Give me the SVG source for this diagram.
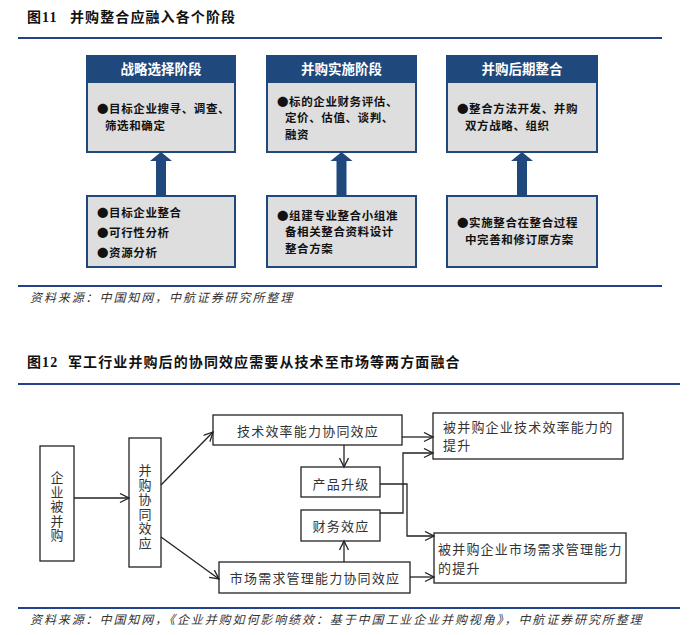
<svg xmlns="http://www.w3.org/2000/svg" width="700" height="635" viewBox="0 0 700 635">
<defs>
<style>
.title{font-family:"Liberation Serif","Noto Sans CJK SC",serif;font-size:14px;font-weight:bold;fill:#111;letter-spacing:1.1px}
.rule{stroke:#22428a;stroke-width:2}
.src{font-family:"Noto Sans CJK SC",sans-serif;font-size:12px;font-style:italic;fill:#333;letter-spacing:1.9px}
.hdr{fill:#1f497d;stroke:#1f497d;stroke-width:2}
.body{fill:#dedede;stroke:#1f497d;stroke-width:2}
.htxt{font-family:"Noto Sans CJK SC",sans-serif;font-size:13.5px;font-weight:bold;fill:#fff;text-anchor:middle}
.btxt{font-family:"Noto Sans CJK SC",sans-serif;font-size:11.5px;font-weight:bold;fill:#111;letter-spacing:0.6px}
.up{fill:#1f497d}
.box{fill:#fff;stroke:#222;stroke-width:1.3}
.t2{font-family:"Noto Sans CJK SC",sans-serif;font-size:13px;fill:#333;letter-spacing:1.2px}
.vt{font-family:"Noto Sans CJK SC",sans-serif;font-size:13px;fill:#333;letter-spacing:1.5px;writing-mode:vertical-rl;text-orientation:upright}
.mid{text-anchor:middle}
.ln{fill:none;stroke:#222;stroke-width:1.3}
</style>
<marker id="ah" markerUnits="userSpaceOnUse" markerWidth="12" markerHeight="12" refX="10" refY="5" orient="auto" viewBox="0 0 12 12">
<path d="M1,0.5 L10,5 L1,9.5" fill="none" stroke="#222" stroke-width="1.3"/>
</marker>
</defs>
<rect width="700" height="635" fill="#fff"/>

<text class="title" x="27" y="22">图11<tspan x="70">并购整合应融入各个阶段</tspan></text>
<line class="rule" x1="18" y1="38" x2="662" y2="38"/>

<g id="stage1">
<rect class="body" x="87" y="56" width="148" height="96"/>
<rect class="hdr" x="87" y="56" width="148" height="26"/>
<text class="htxt" x="161" y="74">战略选择阶段</text>
<text class="btxt" x="97" y="112.5">●目标企业搜寻、调查、</text>
<text class="btxt" x="105" y="129.5">筛选和确定</text>
</g>
<g id="stage1b">
<rect class="body" x="87" y="196" width="148" height="71"/>
<text class="btxt" x="97" y="216.5">●目标企业整合</text>
<text class="btxt" x="97" y="236.5">●可行性分析</text>
<text class="btxt" x="97" y="256.5">●资源分析</text>
</g>

<g id="stage2">
<rect class="body" x="267" y="56" width="149" height="96"/>
<rect class="hdr" x="267" y="56" width="149" height="26"/>
<text class="htxt" x="341.5" y="74">并购实施阶段</text>
<text class="btxt" x="277" y="105.5">●标的企业财务评估、</text>
<text class="btxt" x="285" y="122.2">定价、估值、谈判、</text>
<text class="btxt" x="285" y="138.9">融资</text>
</g>
<g id="stage2b">
<rect class="body" x="267" y="196" width="149" height="71"/>
<text class="btxt" x="277" y="219.5">●组建专业整合小组准</text>
<text class="btxt" x="285" y="236.2">备相关整合资料设计</text>
<text class="btxt" x="285" y="252.9">整合方案</text>
</g>

<g id="stage3">
<rect class="body" x="447" y="56" width="150" height="96"/>
<rect class="hdr" x="447" y="56" width="150" height="26"/>
<text class="htxt" x="522" y="74">并购后期整合</text>
<text class="btxt" x="457" y="113">●整合方法开发、并购</text>
<text class="btxt" x="465" y="129.7">双方战略、组织</text>
</g>
<g id="stage3b">
<rect class="body" x="447" y="196" width="150" height="71"/>
<text class="btxt" x="457" y="227">●实施整合在整合过程</text>
<text class="btxt" x="465" y="243.7">中完善和修订原方案</text>
</g>

<g id="up-arrows">
<polygon class="up" points="156,196 156,161 150,161 161,152 172,161 166,161 166,196"/>
<polygon class="up" points="336.5,196 336.5,161 330.5,161 341.5,152 352.5,161 346.5,161 346.5,196"/>
<polygon class="up" points="517,196 517,161 511,161 522,152 533,161 527,161 527,196"/>
</g>

<line class="rule" x1="18" y1="286" x2="662" y2="286"/>
<text class="src" x="30" y="302">资料来源：中国知网，中航证券研究所整理</text>

<text class="title" x="27" y="367">图12<tspan x="68">军工行业并购后的协同效应需要从技术至市场等两方面融合</tspan></text>
<line class="rule" x1="18" y1="384" x2="680" y2="384"/>

<g id="n-acquired">
<rect class="box" x="40" y="446" width="34" height="115"/>
<text class="vt" x="57" y="471">企业被并购</text>
</g>
<g id="n-synergy">
<rect class="box" x="129" y="438" width="32" height="129"/>
<text class="vt" x="145" y="464">并购协同效应</text>
</g>
<g id="n-tech">
<rect class="box" x="213" y="415" width="189" height="30"/>
<text class="t2 mid" x="308" y="435.5">技术效率能力协同效应</text>
</g>
<g id="n-product">
<rect class="box" x="301" y="467" width="79" height="30"/>
<text class="t2 mid" x="341" y="488.5">产品升级</text>
</g>
<g id="n-finance">
<rect class="box" x="301" y="510" width="79" height="31"/>
<text class="t2 mid" x="341" y="530.5">财务效应</text>
</g>
<g id="n-market">
<rect class="box" x="219" y="562" width="191" height="31"/>
<text class="t2 mid" x="315" y="582.5">市场需求管理能力协同效应</text>
</g>
<g id="n-tech-up">
<rect class="box" x="433" y="413" width="190" height="46"/>
<text class="t2" x="443" y="431.5">被并购企业技术效率能力的</text>
<text class="t2" x="443" y="449.5">提升</text>
</g>
<g id="n-market-up">
<rect class="box" x="434" y="533" width="192" height="50"/>
<text class="t2" x="438" y="553.5">被并购企业市场需求管理能力</text>
<text class="t2" x="438" y="572.5">的提升</text>
</g>

<g id="connectors">
<line class="ln" x1="74" y1="498" x2="129" y2="498" marker-end="url(#ah)"/>
<line class="ln" x1="161" y1="485" x2="213" y2="432" marker-end="url(#ah)"/>
<line class="ln" x1="161" y1="537" x2="219" y2="579" marker-end="url(#ah)"/>
<line class="ln" x1="344" y1="445" x2="344" y2="467" marker-end="url(#ah)"/>
<line class="ln" x1="344" y1="562" x2="344" y2="541" marker-end="url(#ah)"/>
<line class="ln" x1="402" y1="437" x2="433" y2="437" marker-end="url(#ah)"/>
<line class="ln" x1="410" y1="577" x2="434" y2="577" marker-end="url(#ah)"/>
<polyline class="ln" points="380,484 407,484 407,536 434,536" marker-end="url(#ah)"/>
<polyline class="ln" points="380,513 403,513 403,453 433,453" marker-end="url(#ah)"/>
</g>

<line class="rule" x1="18" y1="608" x2="680" y2="608"/>
<text class="src" x="30" y="624" letter-spacing="1.7">资料来源：中国知网，《企业并购如何影响绩效：基于中国工业企业并购视角》，中航证券研究所整理</text>
</svg>
